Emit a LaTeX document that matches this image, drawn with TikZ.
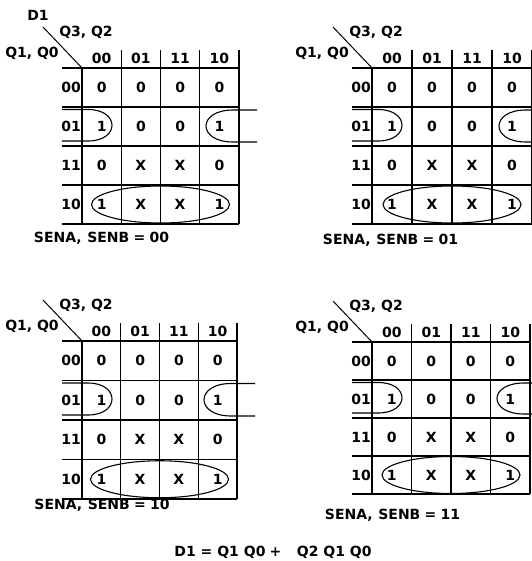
\documentclass[tikz,border=0pt]{standalone}
\usepackage{fontspec}
\setmainfont{DejaVu Sans}[BoldFont={DejaVu Sans Bold}]
\tikzset{
  kgrid/.style={line width=1.2pt},
  kdiag/.style={line width=1pt},
  kloop/.style={line width=1.1pt},
  kval/.style={font=\fontsize{14}{16}\selectfont\bfseries, inner sep=0pt},
}
\newcommand\kmapdraw[5]{% id, ox, oy, cw, ch
  \begin{scope}[shift={(#2,#3)}]
    \def\cw{#4}\def\ch{#5}
    \foreach \k in {0,...,4} \draw[kgrid] (-20,\k*\ch) -- (4*\cw,\k*\ch);
    \foreach \k in {1,...,4} \draw[kgrid] (\k*\cw,-18) -- (\k*\cw,4*\ch);
    \draw[kgrid] (0,0) -- (0,4*\ch);
    \draw[kdiag] (-39,-41) -- (0,0);
    \node[kval] (#1-q32) at (4,-36) {Q3, Q2};
    \node[kval] (#1-q10) at (-50,-15) {Q1, Q0};
    \foreach \lab [count=\i from 0] in {00,01,11,10} {
      \node[kval] (#1-c\lab) at ({(\i+0.5)*\cw},-10) {\lab};
      \node[kval] (#1-r\lab) at (-11,{(\i+0.5)*\ch}) {\lab};
    }
    \foreach \va/\vb/\vc/\vd [count=\r from 0] in {0/0/0/0,1/0/0/1,0/X/X/0,1/X/X/1} {
      \foreach \v [count=\cc from 0] in {\va,\vb,\vc,\vd}
        \node[kval] (#1-v\r\cc) at ({(\cc+0.5)*\cw},{(\r+0.5)*\ch}) {\v};
    }
    % wrap-around loop, left part
    \draw[kloop] (-20,\ch+2.5) -- (6,\ch+2.5)
      .. controls (38,\ch+2.5) and (38,2*\ch-5) .. (6,2*\ch-5) -- (-20,2*\ch-5);
    % wrap-around loop, right part
    \draw[kloop] (4*\cw+18,\ch+3) -- (4*\cw-6,\ch+3)
      .. controls (4*\cw-42,\ch+3) and (4*\cw-42,2*\ch-4) .. (4*\cw-6,2*\ch-4) -- (4*\cw+18,2*\ch-4);
    % row 10 loop
    \draw[kloop] (2*\cw,3.5*\ch) ellipse [x radius=69, y radius=18.5];
  \end{scope}}
\begin{document}
\begin{tikzpicture}[x=1pt,y=-1pt]
  \useasboundingbox[fill=white] (0,0) rectangle (531,561);
  \kmapdraw{ma}{82}{68}{39.25}{39}
  \kmapdraw{mb}{372}{68}{40}{39}
  \kmapdraw{mc}{82}{341}{38.75}{39.5}
  \kmapdraw{md}{372}{342}{39.5}{38}
  \node[kval] (d1) at (38,15) {D1};
  \node[kval] (capa) at (101.5,238) {SENA,\hspace{0.4em}SENB\hspace{0.3em}=\hspace{0.3em}00};
  \node[kval] (capb) at (390.5,240) {SENA,\hspace{0.4em}SENB\hspace{0.3em}=\hspace{0.3em}01};
  \node[kval] (capc) at (102,505) {SENA,\hspace{0.4em}SENB\hspace{0.3em}=\hspace{0.3em}10};
  \node[kval] (capd) at (392.5,515) {SENA,\hspace{0.4em}SENB\hspace{0.3em}=\hspace{0.3em}11};
  \node[kval] (eq) at (273,552) {D1\hspace{0.35em}=\hspace{0.35em}Q1\hspace{0.35em}Q0\hspace{0.3em}+\hspace{1.1em}Q2\hspace{0.35em}Q1\hspace{0.35em}Q0};
\end{tikzpicture}
\end{document}
